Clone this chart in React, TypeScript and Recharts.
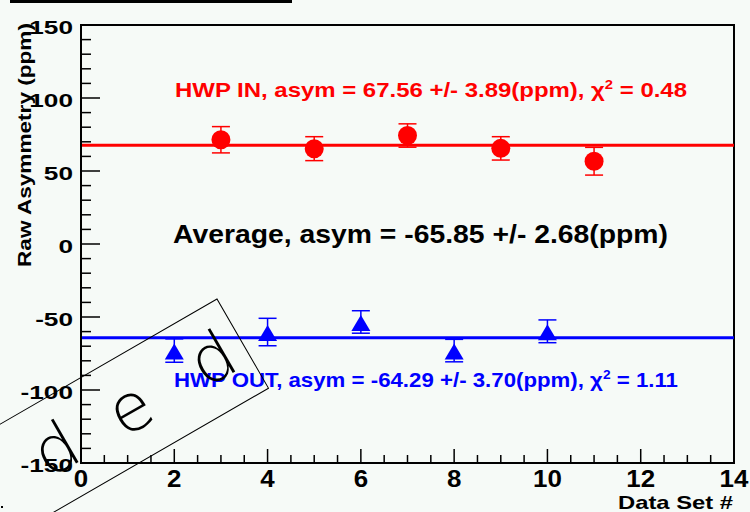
import {
  ComposedChart,
  Scatter,
  ErrorBar,
  XAxis,
  YAxis,
  ReferenceLine,
  ReferenceArea,
} from 'recharts'

const IN_X = [3, 5, 7, 9, 11]
const IN_Y = [71.4, 65.3, 74.3, 65.5, 56.7]
const IN_ERR = [9, 8.2, 8, 8, 9.5]

const OUT_X = [2, 4, 6, 8, 10]
const OUT_Y = [-73, -60.3, -53.4, -73, -59.8]
const OUT_ERR = [8, 9.4, 7.7, 7.7, 7.8]

const FIT_IN = 67.56
const FIT_OUT = -64.29

const X_TICKS = [
  0, 0.5, 1, 1.5, 2, 2.5, 3, 3.5, 4, 4.5, 5, 5.5, 6, 6.5, 7, 7.5, 8, 8.5, 9, 9.5, 10, 10.5, 11,
  11.5, 12, 12.5, 13, 13.5, 14,
]
const X_LABELS = [0, 2, 4, 6, 8, 10, 12, 14]

const Y_TICKS = [
  -150, -140, -130, -120, -110, -100, -90, -80, -70, -60, -50, -40, -30, -20, -10, 0, 10, 20, 30,
  40, 50, 60, 70, 80, 90, 100, 110, 120, 130, 140, 150,
]
const Y_LABELS = [-150, -100, -50, 0, 50, 100, 150]

const inData = IN_X.map((x, i) => ({ x, y: IN_Y[i], err: IN_ERR[i] }))
const outData = OUT_X.map((x, i) => ({ x, y: OUT_Y[i], err: OUT_ERR[i] }))

const FONT = '"Liberation Sans", Arial, Helvetica, sans-serif'
const BG = '#f6faf7'

function XTick(props: any) {
  const { x, y, payload } = props
  const major = X_LABELS.includes(payload.value)
  return (
    <g>
      <line x1={x} x2={x} y1={y} y2={y - (major ? 14 : 8)} stroke="#000" strokeWidth={1.5} />
      {major && (
        <text
          transform={`translate(${x},${y + 24}) scale(1.08,1)`}
          textAnchor="middle"
          fontFamily={FONT}
          fontWeight="bold"
          fontSize={24}
          fill="#000"
        >
          {payload.value}
        </text>
      )}
    </g>
  )
}

function YTick(props: any) {
  const { x, y, payload } = props
  const major = Y_LABELS.includes(payload.value)
  const ax = x + 8
  return (
    <g>
      <line x1={ax} x2={ax + (major ? 19 : 10)} y1={y} y2={y} stroke="#000" strokeWidth={1.5} />
      {major && (
        <text
          transform={`translate(${x},${y + 9}) scale(1.38,1)`}
          textAnchor="end"
          fontFamily={FONT}
          fontWeight="bold"
          fontSize={19}
          fill="#000"
        >
          {payload.value}
        </text>
      )}
    </g>
  )
}

const Dot = (props: any) => <circle cx={props.cx} cy={props.cy} r={9.5} fill="#ff0000" />

const Tri = (props: any) => {
  const { cx, cy } = props
  return <polygon points={`${cx},${cy - 7} ${cx + 9.5},${cy + 9} ${cx - 9.5},${cy + 9}`} fill="#0000ff" />
}

export default function App() {
  return (
    <div style={{ position: 'absolute', left: 0, top: 0, width: 750, height: 512, background: BG, overflow: 'hidden' }}>
      <ComposedChart width={750} height={512} margin={{ top: 25, right: 16, bottom: 0, left: 0 }}>
        <XAxis
          type="number"
          dataKey="x"
          domain={[0, 14]}
          ticks={X_TICKS}
          interval={0}
          height={49}
          tickSize={0}
          tickMargin={0}
          axisLine={{ stroke: '#000', strokeWidth: 2 }}
          tickLine={false}
          tick={(p: any) => <XTick {...p} />}
          allowDataOverflow
        />
        <YAxis
          type="number"
          dataKey="y"
          domain={[-150, 150]}
          ticks={Y_TICKS}
          interval={0}
          width={81}
          tickSize={0}
          tickMargin={8}
          axisLine={{ stroke: '#000', strokeWidth: 2 }}
          tickLine={false}
          tick={(p: any) => <YTick {...p} />}
          allowDataOverflow
        />
        <ReferenceArea x1={0} x2={14} y1={-150} y2={150} fill="none" stroke="#000" strokeWidth={2} fillOpacity={0} />
        <ReferenceLine y={FIT_IN} stroke="#ff0000" strokeWidth={3} />
        <ReferenceLine y={FIT_OUT} stroke="#0000ff" strokeWidth={3} />
        <Scatter data={inData} shape={Dot} isAnimationActive={false}>
          <ErrorBar dataKey="err" direction="y" width={9} stroke="#ff0000" strokeWidth={1.5} isAnimationActive={false} />
        </Scatter>
        <Scatter data={outData} shape={Tri} isAnimationActive={false}>
          <ErrorBar dataKey="err" direction="y" width={9} stroke="#0000ff" strokeWidth={1.5} isAnimationActive={false} />
        </Scatter>
      </ComposedChart>

      <svg
        width={750}
        height={512}
        style={{ position: 'absolute', left: 0, top: 0, pointerEvents: 'none' }}
        fontFamily={FONT}
        fontWeight="bold"
      >
        <rect x={10} y={0} width={282} height={3} fill="#000" />
        <rect x={1} y={506} width={2} height={2} fill="#000" />

        <text x={175} y={97} fontSize={21} fill="#ff0000" textLength={512} lengthAdjust="spacingAndGlyphs">
          HWP IN, asym = 67.56 +/- 3.89(ppm), χ<tspan dy={-8} fontSize={13}>2</tspan>
          <tspan dy={8}> = 0.48</tspan>
        </text>
        <text x={173} y={243} fontSize={25} fill="#000" textLength={495} lengthAdjust="spacingAndGlyphs">
          Average, asym = -65.85 +/- 2.68(ppm)
        </text>
        <text x={174} y={387} fontSize={21} fill="#0000ff" textLength={504} lengthAdjust="spacingAndGlyphs">
          HWP OUT, asym = -64.29 +/- 3.70(ppm), χ<tspan dy={-8} fontSize={13}>2</tspan>
          <tspan dy={8}> = 1.11</tspan>
        </text>

        <text
          transform="translate(31,23) rotate(-90)"
          textAnchor="end"
          fontSize={18}
          fill="#000"
          textLength={244}
          lengthAdjust="spacingAndGlyphs"
        >
          Raw Asymmetry (ppm)
        </text>
        <text x={733} y={509} textAnchor="end" fontSize={19} fill="#000" textLength={115} lengthAdjust="spacingAndGlyphs">
          Data Set #
        </text>

        <g transform="translate(217,299) rotate(-30)" fontWeight="normal">
          <rect x={-430} y={0} width={430} height={103} fill="none" stroke="#000" strokeWidth={1} />
          <g fontFamily='"DejaVu Sans", sans-serif' fontWeight={200} fontSize={66} fill="#000" textAnchor="middle">
            <text x={-34} y={72}>d</text>
            <text x={-130} y={74}>e</text>
            <text x={-215} y={72}>d</text>
          </g>
        </g>
      </svg>
    </div>
  )
}
